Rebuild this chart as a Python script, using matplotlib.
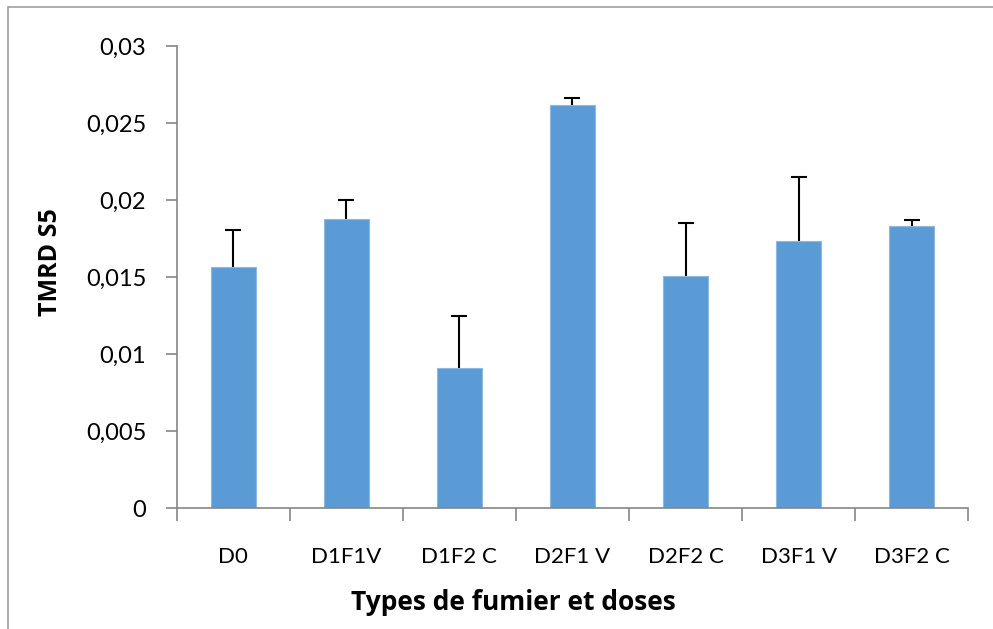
import matplotlib.pyplot as plt
import numpy as np
from matplotlib.patches import Rectangle
from matplotlib.ticker import FuncFormatter

categories = ["D0", "D1F1V", "D1F2 C", "D2F1 V", "D2F2 C", "D3F1 V", "D3F2 C"]
values = [0.01565, 0.01877, 0.00909, 0.02615, 0.01508, 0.01732, 0.01833]
errors = [0.0024, 0.00123, 0.0034, 0.0005, 0.0034, 0.0042, 0.0004]

plt.rcParams["font.family"] = ["Lato", "DejaVu Sans"]

fig = plt.figure(figsize=(9.93, 6.29), dpi=100)
ax = fig.add_axes([0.178, 0.192, 0.797, 0.735])

x = np.arange(len(categories))
vals = np.array(values)
errs = np.array(errors)
ax.bar(x, vals, width=0.4, color="#5B9BD5", edgecolor="#8DB8E2", linewidth=0.8)
ax.errorbar(x, vals, yerr=[np.zeros(len(errs)), errs], fmt="none",
            ecolor="black", elinewidth=1.5, capsize=0)
ax.plot(x, vals + errs, linestyle="none", marker="_", markersize=11,
        markeredgewidth=1.5, color="black")

ax.set_xlim(-0.5, len(categories) - 0.5)
ax.set_ylim(0, 0.03)
ax.set_yticks(np.arange(0, 0.0301, 0.005))
ax.yaxis.set_major_formatter(FuncFormatter(lambda v, p: "0" if v == 0 else f"{v:.3f}".rstrip("0").replace(".", ",")))

ax.set_xticks(x)
ax.set_xticklabels(categories)
ax.set_xticks(np.arange(-0.5, len(categories)), minor=True)
ax.tick_params(axis="x", which="major", length=0, pad=28, labelsize=16)
ax.tick_params(axis="x", which="minor", length=9, color="#868686", width=1.2)
ax.tick_params(axis="y", length=8, color="#868686", width=1.2, labelsize=17, pad=14)

for s in ["top", "right"]:
    ax.spines[s].set_visible(False)
for s in ["left", "bottom"]:
    ax.spines[s].set_color("#868686")
    ax.spines[s].set_linewidth(1.2)

ax.set_ylabel("TMRD S5", fontsize=18, fontweight="bold",
              family=["Open Sans", "DejaVu Sans"])
ax.set_xlabel("Types de fumier et doses", fontsize=19, fontweight="bold",
              family=["Open Sans", "DejaVu Sans"])
ax.yaxis.set_label_coords(-0.16, 0.532)
ax.xaxis.set_label_coords(0.425, -0.203)
ax.xaxis.label.set_verticalalignment("center")
ax.yaxis.label.set_verticalalignment("center")

fig.patches.append(Rectangle((8 / 993, -0.1), 1.2, 1 - 7 / 629 + 0.1, transform=fig.transFigure,
                             fill=False, edgecolor="#A0A0A0", linewidth=1.2))

plt.savefig("out.png", dpi=100)
